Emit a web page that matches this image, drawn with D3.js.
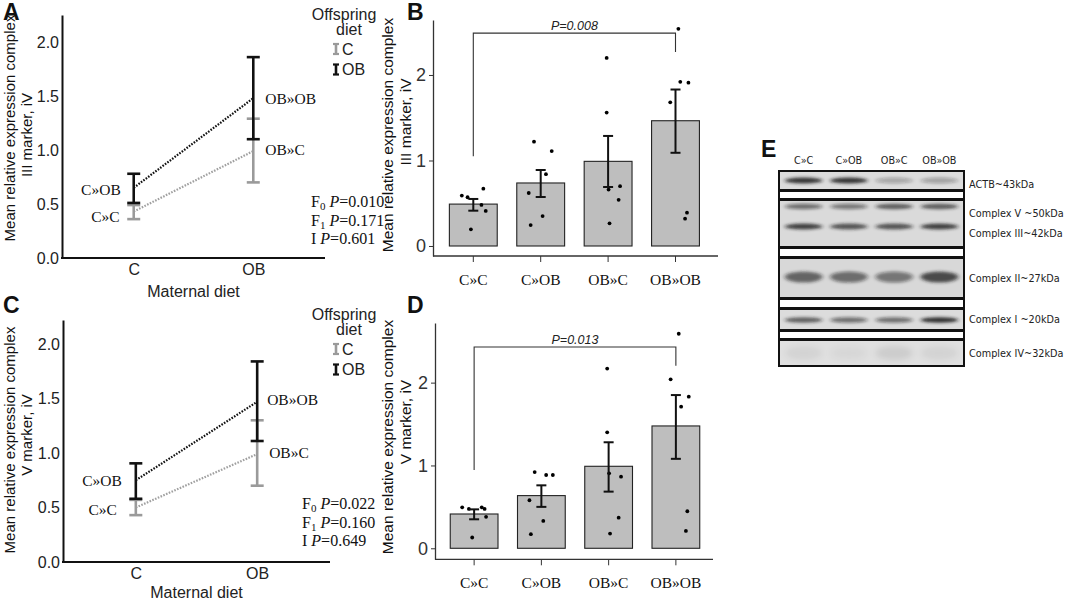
<!DOCTYPE html>
<html><head><meta charset="utf-8">
<script src="https://cdn.jsdelivr.net/npm/d3@7"></script>
<style>
body{margin:0;background:#fff;}
svg{display:block;}
.sans{font-family:"Liberation Sans",Arial,sans-serif;}
.serif{font-family:"Liberation Serif","Times New Roman",serif;}
</style></head>
<body>
<svg id="chart" width="1065" height="603"></svg>
<script>
// ---------- DATA ----------
const categories = ["C»C","C»OB","OB»C","OB»OB"];
const maternalDiet = ["C","OB"];
const offspringDiet = ["C","OB"];

// Panel A (complex III) interaction plot: mean, lower, upper per group (maternal»offspring)
const aMean  = [0.43, 0.65, 0.99, 1.48];
const aLower = [0.36, 0.51, 0.70, 1.10];
const aUpper = [0.49, 0.78, 1.29, 1.86];
const aStats = ["0.010","0.171","0.601"];

// Panel C (complex V) interaction plot
const cMean  = [0.50, 0.75, 0.99, 1.47];
const cLower = [0.43, 0.58, 0.70, 1.11];
const cUpper = [0.57, 0.905, 1.30, 1.84];
const cStats = ["0.022","0.160","0.649"];

// Panel B (complex III) bars
const bMean  = [0.49, 0.737, 0.99, 1.465];
const bLower = [0.413, 0.573, 0.69, 1.09];
const bUpper = [0.55, 0.889, 1.287, 1.83];
const bPoints = [
  [0.59, 0.57, 0.67, 0.48, 0.41, 0.195],
  [1.22, 1.11, 0.84, 0.62, 0.35, 0.245],
  [2.20, 1.56, 0.66, 0.70, 0.54, 0.265],
  [2.54, 1.92, 1.91, 1.68, 0.39, 0.32]
];
const bJitter = [
  [-0.24,-0.12,0.21,0.17,0.26,-0.05],
  [-0.14,0.23,0.11,-0.25,0.04,-0.21],
  [-0.03,-0.03,0.01,0.25,0.22,0.03],
  [0.06,0.10,0.27,-0.11,0.24,0.20]
];
const bBracket = {top:2.49, left:1.05, right:2.27, label:"P=0.008"};

// Panel D (complex V) bars
const dMean  = [0.414, 0.636, 0.99, 1.477];
const dLower = [0.35, 0.50, 0.684, 1.08];
const dUpper = [0.47, 0.76, 1.28, 1.85];
const dPoints = [
  [0.495, 0.475, 0.495, 0.475, 0.38, 0.13],
  [0.92, 0.885, 0.885, 0.58, 0.33, 0.17],
  [2.17, 1.40, 0.905, 0.865, 0.37, 0.177],
  [2.59, 2.04, 1.83, 1.71, 0.447, 0.21]
];
const dJitter = [
  [-0.25,-0.11,0.16,0.22,0.25,-0.04],
  [-0.14,0.10,0.24,-0.25,0.04,-0.22],
  [-0.03,-0.03,0.01,0.26,0.21,0.03],
  [0.06,-0.11,0.27,0.11,0.24,0.21]
];
const dBracket = {top:2.43, left:0.946, right:2.205, label:"P=0.013"};

// Panel E western blot: band labels and relative band darkness per lane
const blotLanes = ["C»C","C»OB","OB»C","OB»OB"];
const blotLabels = ["ACTB~43kDa","Complex V ~50kDa","Complex III~42kDa","Complex II~27kDa","Complex I ~20kDa","Complex IV~32kDa"];
const bandACTB = [0.85, 0.85, 0.28, 0.30];
const bandV    = [0.55, 0.50, 0.65, 0.65];
const bandIII  = [0.80, 0.70, 0.70, 0.80];
const bandII   = [0.62, 0.55, 0.50, 0.75];
const bandI    = [0.65, 0.55, 0.55, 0.88];
const bandIV   = [0.06, 0.04, 0.09, 0.06];

// ---------- DRAW ----------
const svg = d3.select("#chart");
const GREY = "#9a9a9a";

function panelLabel(t, x, y){
  svg.append("text").attr("class","sans").attr("x",x).attr("y",y)
    .attr("font-size",23).attr("font-weight","bold").attr("fill","#111").text(t);
}

function yTitle(lines, x1, c1, x2, c2, size){
  svg.append("text").attr("class","sans").attr("font-size",size).attr("fill","#111")
    .attr("text-anchor","middle").attr("transform",`translate(${x1},${c1}) rotate(-90)`).text(lines[0]);
  svg.append("text").attr("class","sans").attr("font-size",size).attr("fill","#111")
    .attr("text-anchor","middle").attr("transform",`translate(${x2},${c2}) rotate(-90)`).text(lines[1]);
}

// ---- Interaction plots (A, C) ----
function interaction(cfg){
  const {mean, lower, upper, stats, yRange, yMax, xRange, xAxisEnd, label, title, titlePos, legendY, statsPos, lblPos, xTitleOff} = cfg;
  const y = d3.scaleLinear().domain([0, yMax]).range(yRange);
  const x = d3.scalePoint().domain(maternalDiet).range(xRange).padding(0.6);
  const g = svg.append("g");
  // axes
  const ya = g.append("g").attr("transform",`translate(${xRange[0]},0)`)
    .call(d3.axisLeft(y).tickValues([0,0.5,1,1.5,2]).tickFormat(d3.format(".1f")).tickSize(0).tickPadding(3));
  ya.select(".domain").attr("stroke","#111").attr("stroke-width",2);
  ya.selectAll("text").attr("class","sans").attr("font-size",16).attr("fill","#222");
  const xa = g.append("g").attr("transform",`translate(0,${yRange[0]})`)
    .call(d3.axisBottom(x).tickSize(0).tickPadding(6));
  xa.select(".domain").remove();
  xa.selectAll("text").attr("class","sans").attr("font-size",16).attr("fill","#222");
  g.append("line").attr("x1",xRange[0]-1).attr("x2",xAxisEnd).attr("y1",yRange[0]).attr("y2",yRange[0])
    .attr("stroke","#111").attr("stroke-width",2);
  g.append("text").attr("class","sans").attr("font-size",16).attr("fill","#222").attr("text-anchor","middle")
    .attr("x",(x("C")+x("OB"))/2).attr("y",yRange[0]+xTitleOff).text("Maternal diet");

  // groups: index = m*2 + o
  const groups = [];
  maternalDiet.forEach((m,mi)=>offspringDiet.forEach((o,oi)=>{
    const i = mi*2+oi;
    groups.push({m,o,i,mean:mean[i],lo:lower[i],hi:upper[i],name:categories[i]});
  }));
  // dotted lines per offspring diet
  offspringDiet.forEach((o,oi)=>{
    const pts = groups.filter(d=>d.o===o);
    g.append("path").attr("d", d3.line().x(d=>x(d.m)).y(d=>y(d.mean))(pts))
      .attr("fill","none").attr("stroke", oi===0? "#a0a0a0":"#111")
      .attr("stroke-width",2.2).attr("stroke-dasharray","1.6,1.4");
  });
  // error bars: grey first then black
  [0,1].forEach(oi=>{
    groups.filter(d=>d.o===offspringDiet[oi]).forEach(d=>{
      const col = oi===0? GREY : "#111";
      const cx = x(d.m);
      g.append("line").attr("x1",cx).attr("x2",cx).attr("y1",y(d.lo)).attr("y2",y(d.hi)).attr("stroke",col).attr("stroke-width",2.6);
      [d.lo,d.hi].forEach(v=>g.append("line").attr("x1",cx-6.5).attr("x2",cx+6.5).attr("y1",y(v)).attr("y2",y(v)).attr("stroke",col).attr("stroke-width",2.6));
    });
  });
  // group labels
  groups.forEach(d=>{
    const p = lblPos[d.i];
    g.append("text").attr("class","serif").attr("font-size",15.5).attr("fill","#111")
      .attr("text-anchor", d.m==="C" ? "end":"start")
      .attr("x", x(d.m)+p[0]).attr("y", y(p[1])).attr("dy","0.35em").text(d.name);
  });
  // stats
  const sx = statsPos[0], sy = statsPos[1];
  const lines = [["F","0"],["F","1"],["I",""]];
  lines.forEach((l,k)=>{
    const t = g.append("text").attr("class","serif").attr("font-size",16).attr("fill","#111")
      .attr("x",sx).attr("y",sy+k*18.5);
    t.append("tspan").text(l[0]);
    if(l[1]) t.append("tspan").attr("font-size",11).attr("dy",3).text(l[1]);
    t.append("tspan").attr("dy", l[1]? -3:0).text(" ");
    t.append("tspan").attr("font-style","italic").text("P");
    t.append("tspan").text("=" + stats[k]);
  });
  // legend
  const lx = 336;
  g.append("text").attr("class","sans").attr("font-size",16).attr("fill","#222").attr("x",344).attr("y",legendY).attr("text-anchor","middle").text("Offspring");
  g.append("text").attr("class","sans").attr("font-size",16).attr("fill","#222").attr("x",349).attr("y",legendY+15).attr("text-anchor","middle").text("diet");
  offspringDiet.forEach((o,oi)=>{
    const cy = legendY + 29 + oi*20.5;
    const col = oi===0? GREY:"#111";
    g.append("line").attr("x1",lx).attr("x2",lx).attr("y1",cy-5).attr("y2",cy+5).attr("stroke",col).attr("stroke-width",2.6);
    [cy-5,cy+5].forEach(v=>g.append("line").attr("x1",lx-3).attr("x2",lx+3).attr("y1",v).attr("y2",v).attr("stroke",col).attr("stroke-width",2.2));
    g.append("text").attr("class","sans").attr("font-size",16).attr("fill","#222").attr("x",lx+6).attr("y",cy).attr("dy","0.36em").text(o);
  });
  panelLabel(label[0], label[1], label[2]);
  yTitle(title, titlePos[0], titlePos[1], titlePos[2], titlePos[3], 15);
}

interaction({mean:aMean, lower:aLower, upper:aUpper, stats:aStats,
  yRange:[258,15], yMax:2.25, xRange:[62,325], xAxisEnd:325, xTitleOff:39,
  label:["A",3,20], title:["Mean relative expression complex","III marker, iV"], titlePos:[15,128,32,135],
  legendY:20, statsPos:[311,207],
  lblPos:[[-14,0.38],[-13,0.63],[12,1.0],[12,1.48]]});

interaction({mean:cMean, lower:cLower, upper:cUpper, stats:cStats,
  yRange:[562,320], yMax:2.22, xRange:[63,330], xAxisEnd:330, xTitleOff:36,
  label:["C",3,313], title:["Mean relative expression complex","V marker, iV"], titlePos:[15,440,32,435],
  legendY:320, statsPos:[302,509],
  lblPos:[[-19,0.48],[-14,0.75],[12,1.0],[10,1.49]]});

// ---- Bar plots (B, D) ----
function barPanel(cfg){
  const {mean, lower, upper, points, jitter, bracket, yDomain, yRange, axisX, xAxisEnd, bandRange, label, title, titlePos} = cfg;
  const y = d3.scaleLinear().domain(yDomain).range(yRange);
  const x = d3.scaleBand().domain(categories).range(bandRange).paddingInner(0.29).paddingOuter(0.145);
  const g = svg.append("g");
  const ya = g.append("g").attr("transform",`translate(${axisX},0)`)
    .call(d3.axisLeft(y).tickValues([0,1,2]).tickFormat(d3.format("d")).tickSizeInner(4).tickSizeOuter(0).tickPadding(3));
  ya.select(".domain").attr("stroke","#333").attr("stroke-width",1.3);
  ya.selectAll(".tick line").attr("stroke","#333");
  ya.selectAll("text").attr("font-family","'Liberation Sans Narrow','Arial Narrow',sans-serif").attr("font-size",18).attr("fill","#333");
  const xa = g.append("g").attr("transform",`translate(0,${yRange[0]})`)
    .call(d3.axisBottom(x).tickSizeInner(6).tickSizeOuter(0).tickPadding(12));
  xa.select(".domain").remove();
  xa.selectAll(".tick line").attr("stroke","#333");
  xa.selectAll("text").attr("class","serif").attr("font-size",15.5).attr("fill","#111");
  g.append("line").attr("x1",axisX).attr("x2",xAxisEnd).attr("y1",yRange[0]).attr("y2",yRange[0]).attr("stroke","#333").attr("stroke-width",1.3);

  g.selectAll(".bar").data(categories).join("rect")
    .attr("x",d=>x(d)).attr("width",x.bandwidth())
    .attr("y",(d,i)=>y(mean[i])).attr("height",(d,i)=>y(0)-y(mean[i]))
    .attr("fill","#bebebe").attr("stroke","#222").attr("stroke-width",1.1);
  categories.forEach((c,i)=>{
    points[i].forEach((v,k)=>{
      g.append("circle").attr("cx", x(c)+x.bandwidth()/2 + jitter[i][k]*x.bandwidth())
        .attr("cy", y(v)).attr("r",1.9).attr("fill","#000");
    });
  });
  categories.forEach((c,i)=>{
    const cx = x(c)+x.bandwidth()/2;
    g.append("line").attr("x1",cx).attr("x2",cx).attr("y1",y(lower[i])).attr("y2",y(upper[i])).attr("stroke","#111").attr("stroke-width",2);
    [lower[i],upper[i]].forEach(v=>g.append("line").attr("x1",cx-5).attr("x2",cx+5).attr("y1",y(v)).attr("y2",y(v)).attr("stroke","#111").attr("stroke-width",2));
  });
  const x1 = x(categories[0])+x.bandwidth()/2, x2 = x(categories[3])+x.bandwidth()/2;
  g.append("path").attr("d",`M${x1},${y(bracket.left)}V${y(bracket.top)}H${x2}V${y(bracket.right)}`)
    .attr("fill","none").attr("stroke","#333").attr("stroke-width",1.1);
  g.append("text").attr("class","sans").attr("font-size",12.5).attr("font-style","italic").attr("fill","#222")
    .attr("text-anchor","middle").attr("x",(x1+x2)/2).attr("y",y(bracket.top)-3).text(bracket.label);
  panelLabel(label[0], label[1], label[2]);
  yTitle(title, titlePos[0], titlePos[1], titlePos[2], titlePos[3], 15.5);
}

barPanel({mean:bMean, lower:bLower, upper:bUpper, points:bPoints, jitter:bJitter, bracket:bBracket,
  yDomain:[-0.117,2.643], yRange:[256,20], axisX:433, xAxisEnd:718, bandRange:[439.6,709.2],
  label:["B",407,20], title:["Mean relative expression complex","III marker, iV"], titlePos:[393,135,411,122]});

barPanel({mean:dMean, lower:dLower, upper:dUpper, points:dPoints, jitter:dJitter, bracket:dBracket,
  yDomain:[-0.133,2.72], yRange:[559.3,323], axisX:435, xAxisEnd:713, bandRange:[440.5,709.5],
  label:["D",407,313], title:["Mean relative expression complex","V marker, iV"], titlePos:[393,437,411,422]});

// ---- Panel E: western blot ----
(function(){
  const g = svg.append("g");
  const defs = svg.append("defs");
  defs.append("filter").attr("id","blur").attr("x","-30%").attr("y","-150%").attr("width","160%").attr("height","400%")
    .append("feGaussianBlur").attr("stdDeviation","2.2 1.6");
  defs.append("filter").attr("id","blur2").attr("x","-30%").attr("y","-100%").attr("width","160%").attr("height","300%")
    .append("feGaussianBlur").attr("stdDeviation","3 3");
  const lx = d3.scaleBand().domain(blotLanes).range([781,962]).paddingInner(0.08).paddingOuter(0.04);
  const X0 = 779, X1 = 964;
  const FONT = "'DejaVu Sans',Verdana,sans-serif";
  panelLabel("E", 761, 157);
  blotLanes.forEach(l=>{
    g.append("text").attr("font-family",FONT).attr("font-size",9.7).attr("fill","#222")
      .attr("text-anchor","middle").attr("x",lx(l)+lx.bandwidth()/2).attr("y",164).text(l);
  });
  const strips = [
    {y0:171,y1:190,bg:"#dcdcdc"},
    {y0:191,y1:199,bg:"#ffffff"},
    {y0:200,y1:247,bg:"#dadada"},
    {y0:248,y1:257,bg:"#ffffff"},
    {y0:258,y1:298,bg:"#d8d8d8"},
    {y0:299,y1:308,bg:"#ffffff"},
    {y0:309,y1:330,bg:"#dcdcdc"},
    {y0:331,y1:339,bg:"#ffffff"},
    {y0:340,y1:366,bg:"#e0e0e0"}
  ];
  strips.forEach(s=>{
    g.append("rect").attr("x",X0).attr("y",s.y0).attr("width",X1-X0).attr("height",s.y1-s.y0)
      .attr("fill",s.bg);
  });
  const bands = [
    {vals:bandACTB, cy:180.5, h:6, f:"blur"},
    {vals:bandV, cy:206.5, h:5.5, f:"blur"},
    {vals:bandIII, cy:226.5, h:6, f:"blur"},
    {vals:bandII, cy:277, h:11, f:"blur"},
    {vals:bandI, cy:320, h:5.5, f:"blur"},
    {vals:bandIV, cy:353, h:14, f:"blur2"}
  ];
  bands.forEach(b=>{
    blotLanes.forEach((l,i)=>{
      g.append("ellipse").attr("cx",lx(l)+lx.bandwidth()/2).attr("cy",b.cy)
        .attr("rx",lx.bandwidth()/2-2).attr("ry",b.h/2)
        .attr("fill","#1a1a1a").attr("fill-opacity",b.vals[i]).attr("filter",`url(#${b.f})`);
    });
  });
  strips.forEach(s=>{
    g.append("rect").attr("x",X0).attr("y",s.y0).attr("width",X1-X0).attr("height",s.y1-s.y0)
      .attr("fill","none").attr("stroke","#111").attr("stroke-width",2);
  });
  const labelY = [185, 214, 234, 279, 319.5, 353.5];
  blotLabels.forEach((t,i)=>{
    g.append("text").attr("font-family",FONT).attr("font-size",9.7).attr("fill","#222")
      .attr("x",969).attr("y",labelY[i]).attr("dy","0.35em").text(t);
  });
})();
</script>
</body></html>
